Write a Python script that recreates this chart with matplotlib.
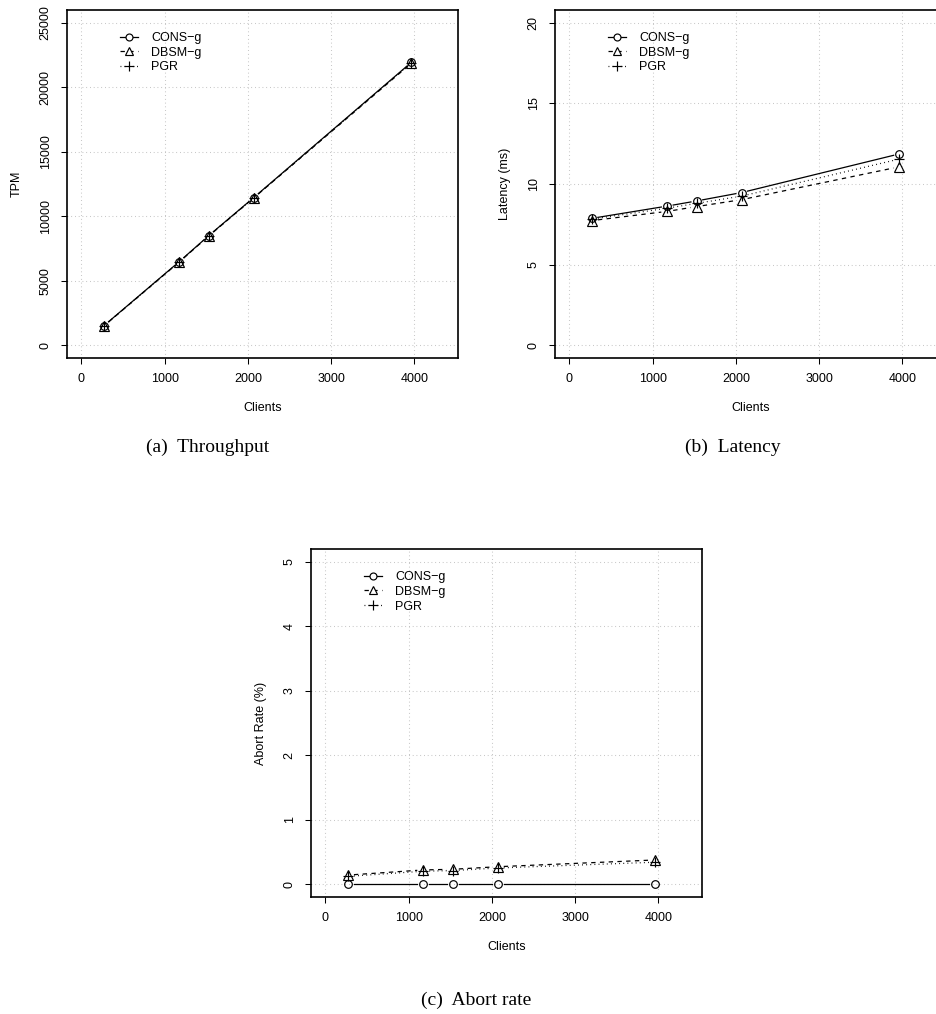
import numpy as np
import matplotlib
matplotlib.use("Agg")
import matplotlib.pyplot as plt
from matplotlib.lines import Line2D

plt.rcParams["font.family"] = ["Liberation Sans", "DejaVu Sans"]

# data
clients = [270, 1175, 1530, 2070, 3965]

tpm_cons = [1510, 6480, 8500, 11450, 21950]
tpm_dbsm = [1490, 6450, 8470, 11420, 21880]
tpm_pgr = [1500, 6460, 8490, 11430, 21920]

lat_cons = [7.87, 8.63, 8.95, 9.47, 11.87]
lat_dbsm = [7.73, 8.30, 8.60, 9.03, 11.07]
lat_pgr = [7.82, 8.50, 8.80, 9.25, 11.55]

abort_cons = [0, 0, 0, 0, 0]
abort_dbsm = [0.14, 0.22, 0.23, 0.27, 0.375]
abort_pgr = [0.12, 0.20, 0.21, 0.25, 0.34]

series_names = ["CONS\u2212g", "DBSM\u2212g", "PGR"]
markers = ["o", "^", "+"]
msizes = [5.5, 6.5, 7.5]
styles = ["-", (0, (3.5, 3.5)), (0, (0.7, 2.6))]

W, H = 936, 1014


def gapped_line(ax, x, y, gap, **kw):
    # R type="b": segments stop short of the points
    pts = ax.transData.transform(np.column_stack([x, y]))
    inv = ax.transData.inverted()
    for p0, p1 in zip(pts[:-1], pts[1:]):
        d = p1 - p0
        L = np.hypot(*d)
        if L <= 2 * gap:
            continue
        u = d / L
        seg = inv.transform(np.array([p0 + u * gap, p1 - u * gap]))
        ax.plot(seg[:, 0], seg[:, 1], color="black", lw=0.9, **kw)


def panel(left, top, ylim, yticks, ylabel, data):
    ax = plt.gcf().add_axes([left / W, 1 - (top + 348) / H, 391 / W, 348 / H])
    x0, x1 = 0, 4350
    ax.set_xlim(x0 - 0.04 * (x1 - x0), x1 + 0.04 * (x1 - x0))
    ax.set_ylim(ylim[0] - 0.04 * (ylim[1] - ylim[0]), ylim[1] + 0.04 * (ylim[1] - ylim[0]))
    ax.set_xticks([0, 1000, 2000, 3000, 4000])
    ax.set_yticks(yticks)
    ax.grid(True, color="#bdbdbd", linestyle=(0, (0.8, 2.8)), lw=0.75)
    ax.set_axisbelow(True)
    for s in ax.spines.values():
        s.set_linewidth(1.2)
    ax.tick_params(direction="out", length=4, width=0.75, pad=7, labelsize=9)
    ax.tick_params(axis="y", labelrotation=90)
    for lab in ax.get_yticklabels():
        lab.set_va("center")
    ax.set_xlabel("Clients", fontsize=9, va="center")
    ax.xaxis.set_label_coords(0.5, -50 / 348)
    ax.set_ylabel(ylabel, fontsize=9, va="center")
    ax.yaxis.set_label_coords(-50 / 391, 0.5)

    for vals, m, ms, ls in zip(data, markers, msizes, styles):
        gapped_line(ax, clients, vals, 6, linestyle=ls)
        ax.plot(clients, vals, linestyle="none", marker=m, ms=ms,
                mfc="none", mec="black", mew=0.85)

    handles = [Line2D([], [], color="black", lw=0.9, linestyle=ls, marker=m,
                      ms=ms - 0.5, mfc="white", mec="black", mew=0.85)
               for m, ms, ls in zip(markers, msizes, styles)]
    ax.legend(handles, series_names, loc="upper left", frameon=False,
              bbox_to_anchor=(53 / 391, 1 - 22 / 348), borderaxespad=0, borderpad=0,
              handlelength=1.4, handletextpad=1.1, labelspacing=0.22, fontsize=9)
    return ax


fig = plt.figure(figsize=(W / 100, H / 100), dpi=100)

panel(67, 10, (0, 25000), [0, 5000, 10000, 15000, 20000, 25000], "TPM",
      [tpm_cons, tpm_dbsm, tpm_pgr])
panel(555, 10, (0, 20), [0, 5, 10, 15, 20], "Latency (ms)",
      [lat_cons, lat_dbsm, lat_pgr])
panel(311, 549, (0, 5), [0, 1, 2, 3, 4, 5], "Abort Rate (%)",
      [abort_cons, abort_dbsm, abort_pgr])

cap = dict(ha="center", va="center", fontsize=14, family=["Liberation Serif", "DejaVu Serif"])
fig.text(208 / W, 1 - 447 / H, "(a)  Throughput", **cap)
fig.text(733 / W, 1 - 447 / H, "(b)  Latency", **cap)
fig.text(476 / W, 1 - 1000 / H, "(c)  Abort rate", **cap)

fig.savefig("out.png", dpi=100)
